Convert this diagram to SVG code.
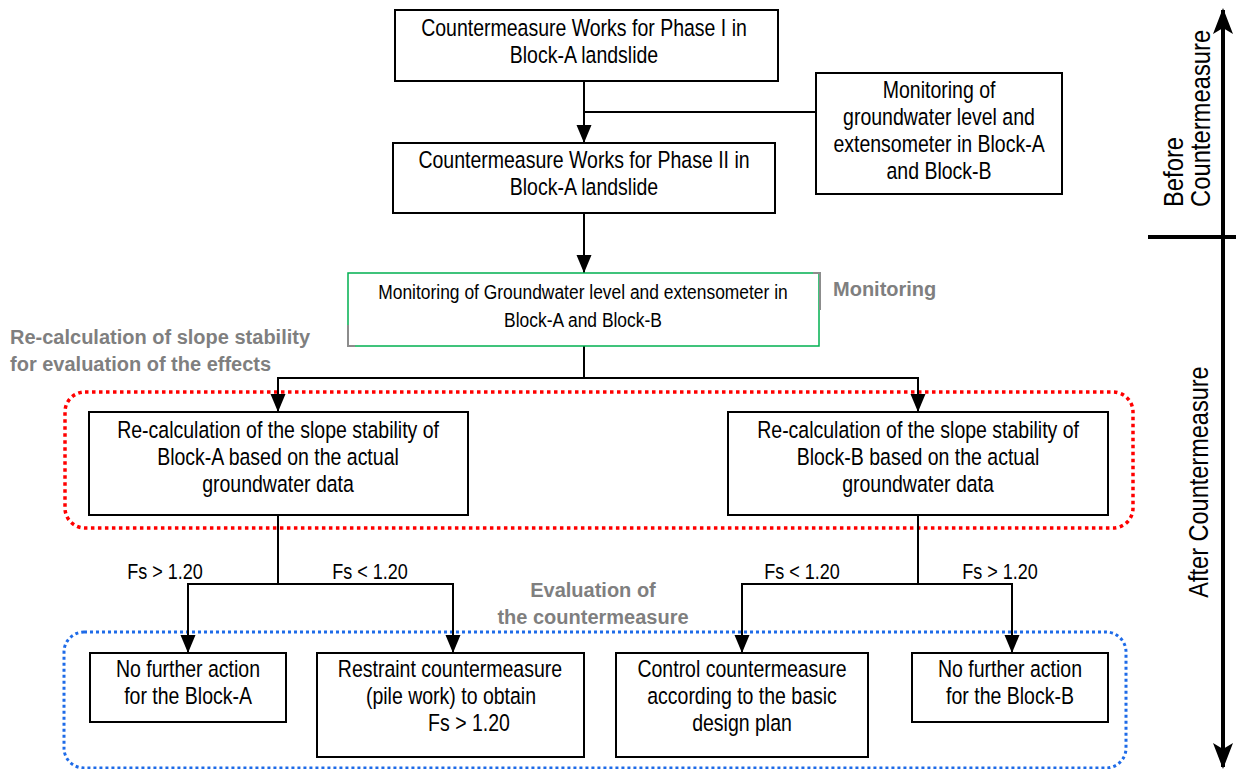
<svg xmlns="http://www.w3.org/2000/svg" width="1236" height="769" viewBox="0 0 1236 769">
<defs>
<marker id="ah" viewBox="0 0 18 16" refX="18" refY="8" markerWidth="18" markerHeight="16" markerUnits="userSpaceOnUse" orient="auto"><path d="M0,0.5 L18,8 L0,15.5 z" fill="#000"/></marker>
<marker id="ahb" viewBox="0 0 26 20" refX="24" refY="10" markerWidth="26" markerHeight="20" markerUnits="userSpaceOnUse" orient="auto-start-reverse"><path d="M0,0 L26,10 L0,20 L6,10 z" fill="#000"/></marker>
</defs>
<style>
.box{fill:#fff;stroke:#000;stroke-width:2}
.t{font-family:"Liberation Sans",Arial,sans-serif;font-size:23.5px;fill:#000;text-anchor:middle;transform-box:fill-box;transform-origin:center;transform:scaleX(0.83)}
.t.ts{font-size:21px}
.t.fs{font-size:22px;transform:scaleX(0.82)}
.v{font-family:"Liberation Sans",Arial,sans-serif;font-size:28px;fill:#000}
.g{font-family:"Liberation Sans",Arial,sans-serif;font-weight:bold;font-size:20px;fill:#7f7f7f}
.c{fill:none;stroke:#000;stroke-width:2}
</style>
<rect width="1236" height="769" fill="#fff"/>
<g id="groups">
<rect x="65" y="392" width="1068" height="136" rx="20" fill="none" stroke="#ff0000" stroke-width="3.5" stroke-dasharray="3.5,3.5"/>
<rect x="64" y="632" width="1062" height="136" rx="20" fill="none" stroke="#1e6be8" stroke-width="3" stroke-dasharray="3,3"/>
</g>
<g id="connectors">
<path class="c" d="M584,81 V143" marker-end="url(#ah)"/>
<path class="c" d="M584,112 H816"/>
<path class="c" d="M584,213 V273" marker-end="url(#ah)"/>
<path class="c" d="M584,346 V378 M277,378 H919"/>
<path class="c" d="M278,378 V412" marker-end="url(#ah)"/>
<path class="c" d="M918,378 V412" marker-end="url(#ah)"/>
<path class="c" d="M278,515 V584 M187,584 H454"/>
<path class="c" d="M188,584 V653" marker-end="url(#ah)"/>
<path class="c" d="M453,584 V653" marker-end="url(#ah)"/>
<path class="c" d="M918,515 V584 M741,584 H1013"/>
<path class="c" d="M742,584 V653" marker-end="url(#ah)"/>
<path class="c" d="M1012,584 V653" marker-end="url(#ah)"/>
</g>
<g id="labels">
<text class="t fs" x="165" y="579">Fs &gt; 1.20</text>
<text class="t fs" x="370" y="579">Fs &lt; 1.20</text>
<text class="t fs" x="802" y="579">Fs &lt; 1.20</text>
<text class="t fs" x="1000" y="579">Fs &gt; 1.20</text>
<text class="g" x="833" y="296">Monitoring</text>
<text class="g" x="10" y="344">Re-calculation of slope stability</text>
<text class="g" x="10" y="371">for evaluation of the effects</text>
<text class="g" x="593" y="597" text-anchor="middle">Evaluation of</text>
<text class="g" x="593" y="624" text-anchor="middle">the countermeasure</text>
</g>
<g id="n1"><rect class="box" x="395" y="10" width="383" height="71"/>
<text class="t" x="584" y="36">Countermeasure Works for Phase I in</text><text class="t" x="584" y="63">Block-A landslide</text></g>
<g id="n2"><rect class="box" x="816" y="73" width="246" height="121"/>
<text class="t" x="939" y="98">Monitoring of</text><text class="t" x="939" y="125">groundwater level and</text><text class="t" x="939" y="152">extensometer in Block-A</text><text class="t" x="939" y="179">and Block-B</text></g>
<g id="n3"><rect class="box" x="393" y="143" width="382" height="70"/>
<text class="t" x="584" y="168">Countermeasure Works for Phase II in</text><text class="t" x="584" y="195">Block-A landslide</text></g>
<g id="n4"><rect x="348" y="273" width="471" height="73" fill="#fff" stroke="#00b050" stroke-width="1.5"/>
<path d="M813,273 H820 V310 M348,325 V346 H355" stroke="#8c8c8c" stroke-width="2" fill="none"/>
<text class="t ts" x="583" y="299">Monitoring of Groundwater level and extensometer in</text><text class="t ts" x="583" y="327">Block-A and Block-B</text></g>
<g id="n5"><rect class="box" x="89" y="412" width="379" height="103"/>
<text class="t" x="278" y="438">Re-calculation of the slope stability of</text><text class="t" x="278" y="465">Block-A based on the actual</text><text class="t" x="278" y="492">groundwater data</text></g>
<g id="n6"><rect class="box" x="728" y="412" width="380" height="103"/>
<text class="t" x="918" y="438">Re-calculation of the slope stability of</text><text class="t" x="918" y="465">Block-B based on the actual</text><text class="t" x="918" y="492">groundwater data</text></g>
<g id="n7"><rect class="box" x="90" y="653" width="196" height="69"/>
<text class="t" x="188" y="677">No further action</text><text class="t" x="188" y="704">for the Block-A</text></g>
<g id="n8"><rect class="box" x="317" y="653" width="267" height="104"/>
<text class="t" x="450" y="677">Restraint countermeasure</text><text class="t" x="451" y="704">(pile work) to obtain</text><text class="t" x="469" y="731">Fs &gt; 1.20</text></g>
<g id="n9"><rect class="box" x="616" y="653" width="252" height="104"/>
<text class="t" x="742" y="677">Control countermeasure</text><text class="t" x="742" y="704">according to the basic</text><text class="t" x="742" y="731">design plan</text></g>
<g id="n10"><rect class="box" x="912" y="653" width="196" height="69"/>
<text class="t" x="1010" y="677">No further action</text><text class="t" x="1010" y="704">for the Block-B</text></g>
<g id="axis">
<path d="M1223,10 V767" stroke="#000" stroke-width="4" marker-start="url(#ahb)" marker-end="url(#ahb)"/>
<path d="M1148,237 H1236" stroke="#000" stroke-width="4"/>
<text class="v" transform="translate(1183,207) rotate(-90) scale(0.85,1)">Before</text>
<text class="v" transform="translate(1210,207) rotate(-90) scale(0.85,1)">Countermeasure</text>
<text class="v" text-anchor="middle" transform="translate(1208,482) rotate(-90) scale(0.84,1)">After Countermeasure</text>
</g>
</svg>
